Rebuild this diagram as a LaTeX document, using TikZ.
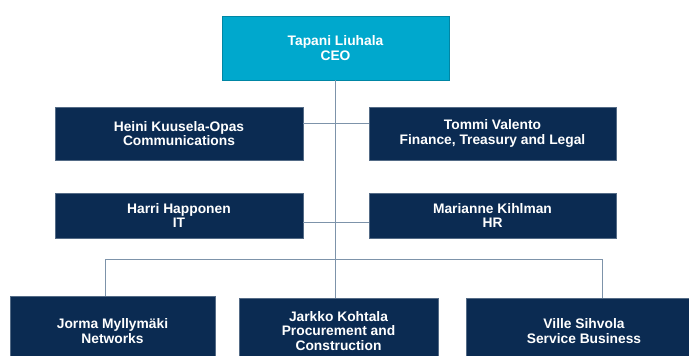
\documentclass[tikz,border=0pt]{standalone}
\usepackage{fontspec}
\setmainfont{Liberation Sans}
\definecolor{navy}{HTML}{0B2B52}
\definecolor{ceocyan}{HTML}{00A8CD}
\definecolor{linegray}{HTML}{7D93AA}
\begin{document}
\begin{tikzpicture}[x=1pt,y=-1pt,
  box/.style={rectangle, fill=navy, draw=navy!70!white, line width=0.6pt, text=white,
    font=\fontsize{13.8}{14.8}\selectfont\bfseries, align=center, inner sep=0pt},
  ceobox/.style={box, fill=ceocyan, draw=ceocyan!80!black},
  conn/.style={draw=linegray, line width=0.9pt}]
\useasboundingbox (0,0) rectangle (689,356);
\fill[white] (0,0) rectangle (689,356);
\node[ceobox, minimum width=227pt, minimum height=64pt] (ceo) at (335.5,48) {Tapani Liuhala\\CEO};
\node[box, minimum width=248pt, minimum height=53pt] (heini) at (179,133.5) {Heini Kuusela-Opas\\Communications};
\node[box, minimum width=247pt, minimum height=53pt] (tommi) at (492.5,133.5) {Tommi Valento\\Finance, Treasury and Legal};
\node[box, minimum width=248pt, minimum height=45pt] (harri) at (179,215.5) {Harri Happonen\\IT};
\node[box, minimum width=247pt, minimum height=45pt] (marianne) at (492.5,215.5) {Marianne Kihlman\\HR};
\node[box, minimum width=205pt, minimum height=70pt] (jorma) at (112.5,331) {Jorma Myllymäki\\Networks};
\node[box, minimum width=199pt, minimum height=66pt] (jarkko) at (338.5,331) {Jarkko Kohtala\\Procurement and\\Construction};
\node[box, minimum width=236pt, minimum height=66pt] (ville) at (584,331) {Ville Sihvola\\Service Business};
\coordinate (bus) at (335.5,259);
\path[conn] (ceo.south) -- (bus);
\path[conn] ([yshift=10.5pt]heini.east) -- ([yshift=10.5pt]tommi.west);
\path[conn] ([yshift=-6.5pt]harri.east) -- ([yshift=-6.5pt]marianne.west);
\path[conn] (bus) -| ([xshift=-7pt]jorma.north);
\path[conn] (bus) -| ([xshift=18pt]ville.north);
\path[conn] (bus) -- (bus |- jarkko.north);
\end{tikzpicture}
\end{document}
